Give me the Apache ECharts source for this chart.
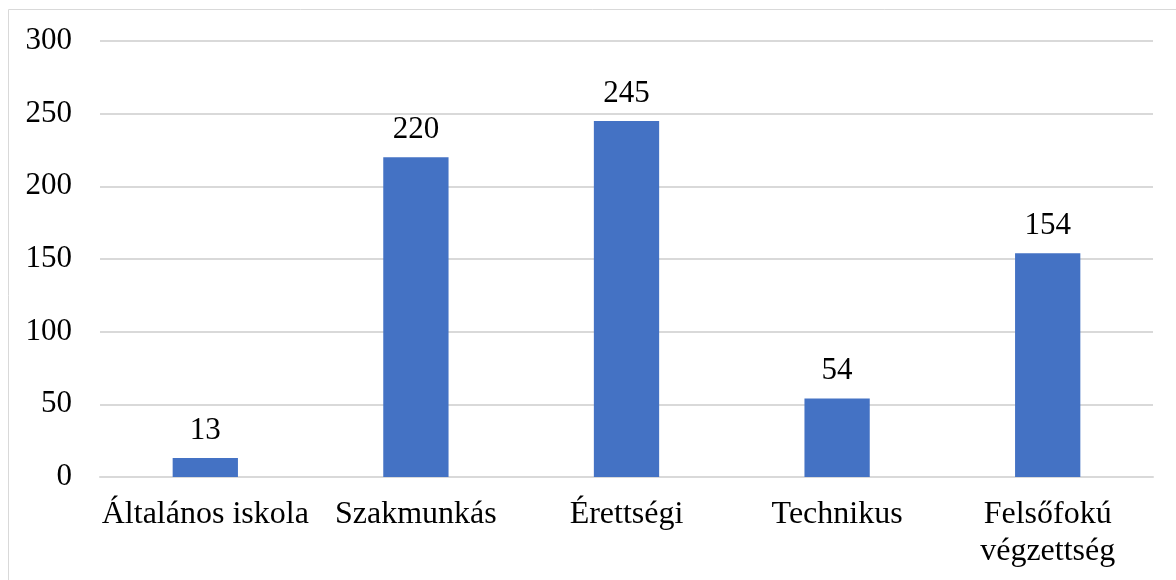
<!DOCTYPE html>
<html>
<head>
<meta charset="utf-8">
<script src="https://cdn.jsdelivr.net/npm/echarts@6/dist/echarts.min.js"></script>
<style>
    html, body { margin: 0; padding: 0; background: #fff; }
    #chart { width: 1176px; height: 580px; }
</style>
</head>
<body>
<div id="chart"></div>
<script>
    // adatok
    var categories = ['Általános iskola', 'Szakmunkás', 'Érettségi', 'Technikus', 'Felsőfokú\nvégzettség'];
    var values = [13, 220, 245, 54, 154];
    var yMin = 0, yMax = 300, yStep = 50;

    var font = '"Liberation Serif", "Times New Roman", serif';
    var myChart = echarts.init(document.getElementById('chart'));
    var option = {
        animation: false,
        graphic: [{
            type: 'rect',
            shape: { x: 8.5, y: 9.5, width: 1200, height: 600 },
            style: { fill: 'none', stroke: '#d9d9d9', lineWidth: 1 },
            silent: true
        }],
        grid: {
            left: 100,
            right: 23,
            top: 41,
            bottom: 103,
            containLabel: false
        },
        xAxis: {
            type: 'category',
            data: categories,
            axisLine: { show: true, lineStyle: { color: '#d9d9d9', width: 2 } },
            axisTick: { show: false },
            axisLabel: {
                color: '#000',
                fontFamily: font,
                fontSize: 32,
                lineHeight: 37,
                margin: 19,
                interval: 0
            }
        },
        yAxis: {
            type: 'value',
            min: yMin,
            max: yMax,
            interval: yStep,
            axisLine: { show: false },
            axisTick: { show: false },
            axisLabel: {
                color: '#000',
                fontFamily: font,
                fontSize: 31,
                margin: 28
            },
            splitLine: {
                lineStyle: { color: '#d9d9d9', width: 2 }
            }
        },
        series: [{
            type: 'bar',
            data: values,
            barWidth: '31%',
            itemStyle: { color: '#4472C4' },
            label: {
                show: true,
                position: 'top',
                distance: 12,
                color: '#000',
                fontFamily: font,
                fontSize: 31
            }
        }]
    };
    myChart.setOption(option, true);
</script>
</body>
</html>
